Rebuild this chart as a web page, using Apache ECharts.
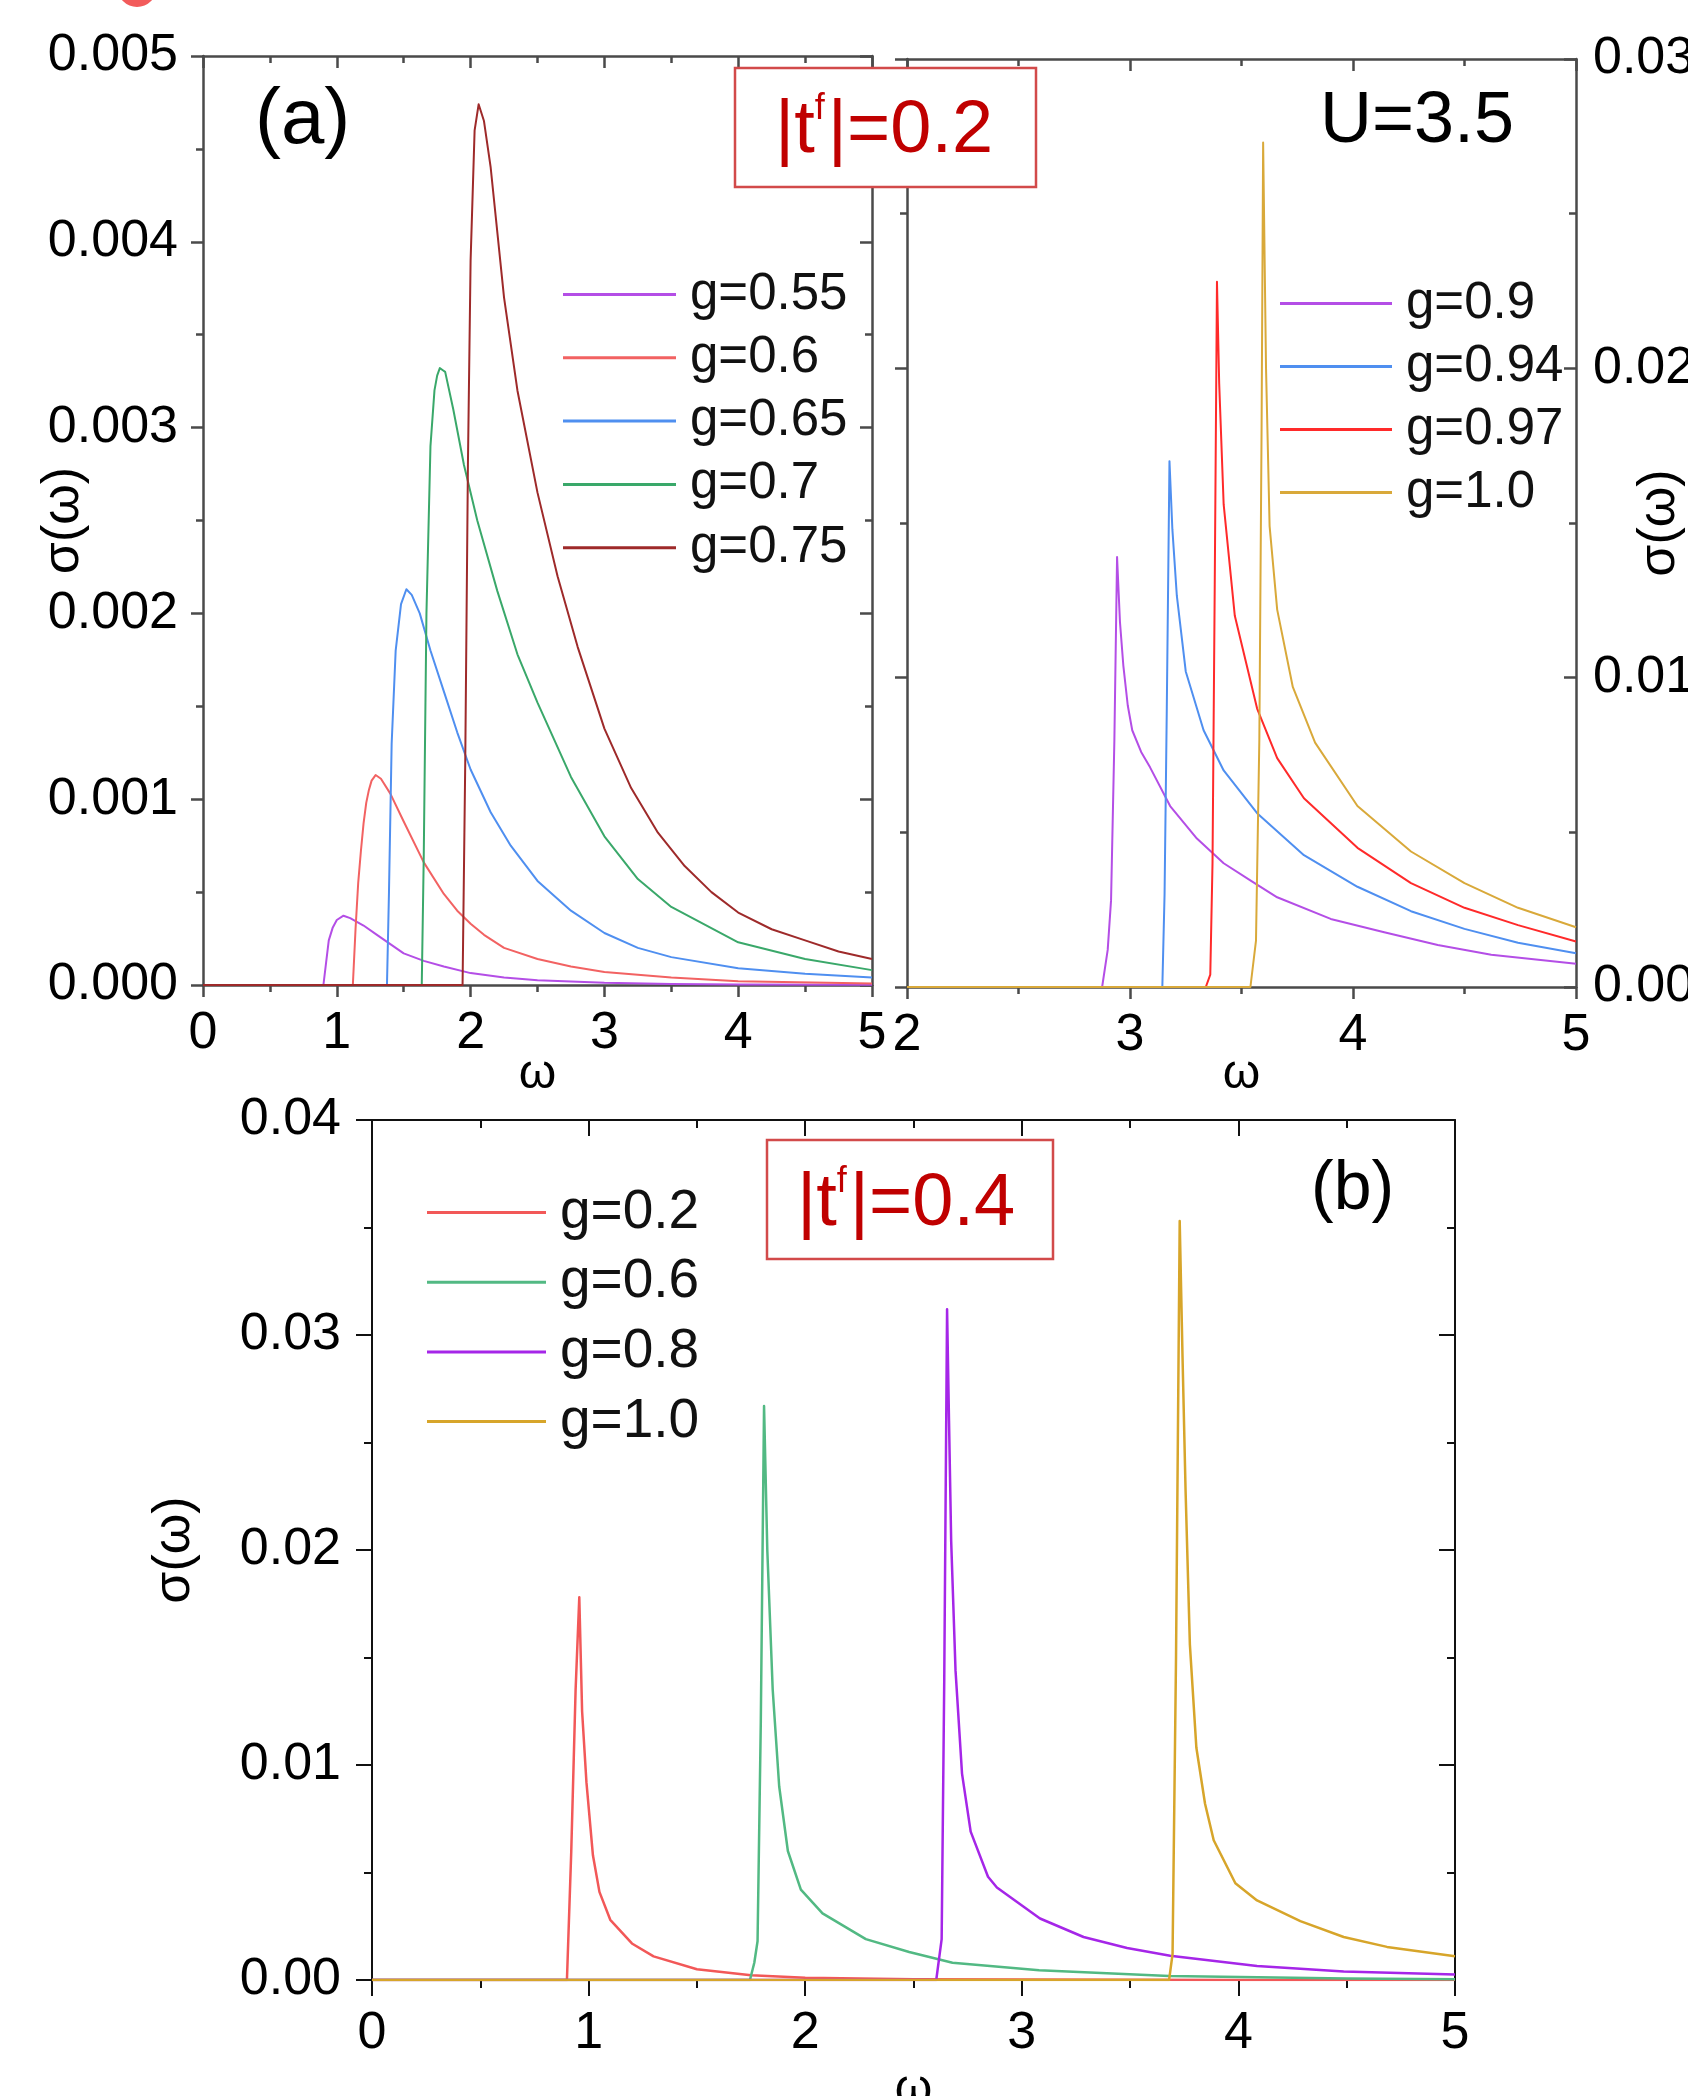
<!DOCTYPE html>
<html><head><meta charset="utf-8">
<script src="https://cdn.jsdelivr.net/npm/echarts@6/dist/echarts.min.js"></script>
<style>html,body{margin:0;padding:0;background:#fff}#c{width:1688px;height:2096px}</style>
</head><body><div id="c"></div>
<script>
// ---------- Panel (a): |t^f|=0.2, omega 0..5 ----------
const a_g055_w = [0, 0.90, 0.92, 0.94, 0.97, 1.0, 1.05, 1.1, 1.2, 1.3, 1.4, 1.5, 1.65, 1.8, 2.0, 2.25, 2.5, 3.0, 3.5, 4.0, 5.0];
const a_g055_s = [0, 0, 0.00012, 0.00024, 0.00031, 0.00035, 0.000373, 0.00036, 0.00032, 0.00027, 0.00022, 0.00017, 0.00013, 0.0001, 0.000064, 0.00004, 0.000026, 0.000012, 0.000006, 0.000003, 0.000001];
const a_g06_w = [0, 1.12, 1.14, 1.16, 1.18, 1.2, 1.22, 1.24, 1.26, 1.29, 1.33, 1.4, 1.5, 1.65, 1.8, 1.9, 2.0, 2.1, 2.25, 2.5, 2.75, 3.0, 3.5, 4.0, 5.0];
const a_g06_s = [0, 0, 0.0003, 0.00055, 0.00072, 0.00087, 0.00098, 0.00105, 0.0011, 0.00113, 0.00111, 0.00103, 0.00088, 0.00066, 0.00049, 0.0004, 0.00033, 0.00027, 0.0002, 0.00014, 0.0001, 0.00007, 0.00004, 0.00002, 0.000008];
const a_g065_w = [0, 1.375, 1.39, 1.41, 1.44, 1.48, 1.52, 1.56, 1.62, 1.7, 1.8, 1.9, 2.0, 2.15, 2.3, 2.5, 2.75, 3.0, 3.25, 3.5, 4.0, 4.5, 5.0];
const a_g065_s = [0, 0, 0.0005, 0.0013, 0.0018, 0.00205, 0.00213, 0.0021, 0.002, 0.0018, 0.00158, 0.00136, 0.00116, 0.00093, 0.00075, 0.00056, 0.0004, 0.00028, 0.0002, 0.00015, 0.00009, 0.00006, 0.00004];
const a_g07_w = [0, 1.635, 1.65, 1.67, 1.7, 1.73, 1.75, 1.77, 1.79, 1.81, 1.87, 1.95, 2.05, 2.2, 2.35, 2.5, 2.75, 3.0, 3.25, 3.5, 4.0, 4.5, 5.0];
const a_g07_s = [0, 0, 0.0007, 0.002, 0.0029, 0.0032, 0.00328, 0.00332, 0.00331, 0.0033, 0.0031, 0.0028, 0.0025, 0.00212, 0.00178, 0.00152, 0.00112, 0.0008, 0.00057, 0.00042, 0.00023, 0.00014, 0.00008];
const a_g075_w = [0, 1.94, 1.96, 1.98, 2.0, 2.03, 2.06, 2.1, 2.15, 2.25, 2.35, 2.5, 2.65, 2.8, 3.0, 3.2, 3.4, 3.6, 3.8, 4.0, 4.25, 4.5, 4.75, 5.0];
const a_g075_s = [0, 0, 0.0012, 0.0028, 0.0039, 0.0046, 0.00474, 0.00465, 0.0044, 0.0037, 0.0032, 0.00265, 0.0022, 0.00182, 0.00138, 0.00106, 0.00082, 0.00064, 0.0005, 0.00039, 0.0003, 0.00024, 0.00018, 0.00014];

// ---------- Right panel: U=3.5, omega 2..5 ----------
const r_g09_w = [2, 2.875, 2.90, 2.915, 2.93, 2.942, 2.955, 2.97, 2.99, 3.01, 3.05, 3.09, 3.18, 3.3, 3.42, 3.55, 3.66, 3.9, 4.14, 4.38, 4.62, 5.0];
const r_g09_s = [0, 0, 0.0012, 0.0028, 0.008, 0.0139, 0.0118, 0.0104, 0.0091, 0.0083, 0.0076, 0.0071, 0.00585, 0.0048, 0.004, 0.0034, 0.0029, 0.0022, 0.00177, 0.00136, 0.00104, 0.00075];
const r_g094_w = [2, 3.145, 3.155, 3.165, 3.177, 3.19, 3.21, 3.25, 3.33, 3.42, 3.57, 3.78, 4.02, 4.26, 4.5, 4.74, 5.0];
const r_g094_s = [0, 0, 0.003, 0.009, 0.017, 0.0148, 0.01265, 0.0102, 0.0083, 0.007, 0.00562, 0.00426, 0.00324, 0.00245, 0.00188, 0.00143, 0.00109];
const r_g097_w = [2, 3.34, 3.36, 3.37, 3.38, 3.39, 3.40, 3.42, 3.47, 3.57, 3.66, 3.78, 4.02, 4.26, 4.5, 4.74, 5.0];
const r_g097_s = [0, 0, 0.0004, 0.004, 0.013, 0.0228, 0.0195, 0.0156, 0.012, 0.009, 0.0074, 0.0061, 0.0045, 0.00336, 0.00256, 0.002, 0.00147];
const r_g10_w = [2, 3.54, 3.565, 3.58, 3.59, 3.597, 3.61, 3.626, 3.66, 3.73, 3.83, 4.02, 4.26, 4.5, 4.74, 5.0];
const r_g10_s = [0, 0, 0.0015, 0.008, 0.018, 0.0273, 0.02, 0.0149, 0.0122, 0.0097, 0.0079, 0.00585, 0.00438, 0.00336, 0.00256, 0.00193];

// ---------- Panel (b): |t^f|=0.4, omega 0..5 ----------
const b_g02_w = [0, 0.90, 0.92, 0.94, 0.957, 0.97, 0.99, 1.02, 1.05, 1.1, 1.2, 1.3, 1.5, 1.75, 2.0, 2.5, 3.0, 4.0, 5.0];
const b_g02_s = [0, 0, 0.006, 0.0135, 0.0178, 0.0125, 0.0092, 0.0058, 0.0041, 0.0028, 0.0017, 0.0011, 0.0005, 0.00022, 0.0001, 0.00004, 0.00002, 0.000005, 0];
const b_g06_w = [0, 1.745, 1.765, 1.78, 1.795, 1.81, 1.825, 1.85, 1.88, 1.92, 1.98, 2.08, 2.28, 2.48, 2.68, 3.08, 3.68, 4.5, 5.0];
const b_g06_s = [0, 0, 0.0008, 0.0018, 0.012, 0.0267, 0.02, 0.0135, 0.009, 0.006, 0.0042, 0.0031, 0.0019, 0.0013, 0.0008, 0.00045, 0.00019, 0.00007, 0.00004];
const b_g08_w = [0, 2.605, 2.63, 2.642, 2.655, 2.664, 2.674, 2.694, 2.724, 2.764, 2.844, 2.885, 3.084, 3.285, 3.486, 3.685, 4.086, 4.486, 5.0];
const b_g08_s = [0, 0, 0.0019, 0.014, 0.0312, 0.026, 0.0204, 0.0144, 0.0096, 0.0069, 0.0048, 0.0043, 0.00286, 0.002, 0.00149, 0.00113, 0.00065, 0.0004, 0.00026];
const b_g10_w = [0, 3.68, 3.696, 3.712, 3.729, 3.742, 3.756, 3.776, 3.806, 3.846, 3.886, 3.986, 4.086, 4.286, 4.486, 4.686, 5.0];
const b_g10_s = [0, 0, 0.0012, 0.015, 0.0353, 0.029, 0.0228, 0.0156, 0.0108, 0.0082, 0.0065, 0.0045, 0.0037, 0.00274, 0.002, 0.00154, 0.0011];

const legendA = ['g=0.55', 'g=0.6', 'g=0.65', 'g=0.7', 'g=0.75'];
const legendR = ['g=0.9', 'g=0.94', 'g=0.97', 'g=1.0'];
const legendB = ['g=0.2', 'g=0.6', 'g=0.8', 'g=1.0'];

const FONT = 'Liberation Sans, Arial, sans-serif';
const chart = echarts.init(document.getElementById('c'), null, {renderer: 'canvas'});

function pts(w, s) { return w.map((x, i) => [x, s[i]]); }
function line(name, xi, yi, w, s, color, width) {
  return {type: 'line', name: name, xAxisIndex: xi, yAxisIndex: yi, data: pts(w, s),
    showSymbol: false, symbol: 'none', animation: false, z: 3, smooth: false,
    lineStyle: {width: width, color: color, join: 'round'}, itemStyle: {color: color}};
}
function axisCommon(color, lw, major, minor, inside) {
  return {
    axisLine: {show: true, onZero: false, lineStyle: {color: color, width: lw}},
    axisTick: {show: true, inside: inside, length: major, lineStyle: {color: color, width: lw}},
    minorTick: {show: true, splitNumber: 2, length: minor, lineStyle: {color: color, width: lw}},
    splitLine: {show: false}, minorSplitLine: {show: false}
  };
}
function xA(grid, min, max, pos, showLabel, o) {
  return Object.assign({type: 'value', gridIndex: grid, min: min, max: max, interval: 1, position: pos,
    axisLabel: {show: showLabel, fontSize: o.fs, fontFamily: FONT, color: '#000', margin: o.margin,
      showMinLabel: true, showMaxLabel: true},
    name: showLabel ? 'ω' : '', nameLocation: 'middle', nameGap: o.nameGap, nameMoveOverlap: false,
    nameTextStyle: {fontSize: 48, fontFamily: FONT, color: '#000'}
  }, axisCommon(o.color, o.lw, o.major, o.minor, pos === 'top'));
}
function yA(grid, max, interval, pos, showLabel, inside, o) {
  return Object.assign({type: 'value', gridIndex: grid, min: 0, max: max, interval: interval, position: pos,
    axisLabel: {show: showLabel, fontSize: o.fs, fontFamily: FONT, color: '#000', margin: o.margin,
      formatter: v => v.toFixed(o.dec), showMinLabel: true, showMaxLabel: true},
    name: showLabel ? 'σ(ω)' : '', nameLocation: 'middle', nameGap: o.nameGap, nameRotate: 90, nameMoveOverlap: false,
    nameTextStyle: {fontSize: 52, fontFamily: FONT, color: '#000'}
  }, axisCommon(o.color, o.lw, o.major, o.minor, inside));
}

const GA = {color: '#4a4a4a', lw: 2.5, major: 12, minor: 7, fs: 52};
const GB = {color: '#111', lw: 2, major: 16, minor: 8, fs: 52};

const option = {
  backgroundColor: '#fff',
  animation: false,
  grid: [
    {left: 203, top: 56, width: 669, height: 929, outerBoundsMode: 'none', containLabel: false},
    {left: 907, top: 59, width: 669, height: 928, outerBoundsMode: 'none', containLabel: false},
    {left: 372, top: 1120, width: 1083, height: 860, outerBoundsMode: 'none', containLabel: false}
  ],
  xAxis: [
    xA(0, 0, 5, 'bottom', true, Object.assign({margin: 23, nameGap: 66}, GA)),
    xA(0, 0, 5, 'top', false, Object.assign({margin: 23, nameGap: 66}, GA)),
    xA(1, 2, 5, 'bottom', true, Object.assign({margin: 23, nameGap: 64}, GA)),
    xA(1, 2, 5, 'top', false, Object.assign({margin: 23, nameGap: 64}, GA)),
    xA(2, 0, 5, 'bottom', true, Object.assign({margin: 28, nameGap: 86}, GB)),
    xA(2, 0, 5, 'top', false, Object.assign({margin: 28, nameGap: 86}, GB))
  ],
  yAxis: [
    yA(0, 0.005, 0.001, 'left', true, false, Object.assign({margin: 25, nameGap: 113, dec: 3}, GA)),
    yA(0, 0.005, 0.001, 'right', false, true, Object.assign({margin: 25, nameGap: 60, dec: 3}, GA)),
    yA(1, 0.03, 0.01, 'left', false, false, Object.assign({margin: 17, nameGap: 60, dec: 2}, GA)),
    yA(1, 0.03, 0.01, 'right', true, true, Object.assign({margin: 17, nameGap: 58, dec: 2}, GA)),
    yA(2, 0.04, 0.01, 'left', true, false, Object.assign({margin: 31, nameGap: 171, dec: 2}, GB)),
    yA(2, 0.04, 0.01, 'right', false, true, Object.assign({margin: 31, nameGap: 60, dec: 2}, GB))
  ],
  legend: [
    {left: 558, top: 264, orient: 'vertical', itemWidth: 113, itemHeight: 3, itemGap: 12.3, icon: 'rect',
      selectedMode: false, data: legendA.map(n => 'a:' + n), formatter: n => n.split(':')[1],
      textStyle: {fontSize: 51, fontFamily: FONT, color: '#111', lineHeight: 50, padding: [0, 0, 0, 9]}},
    {left: 1275, top: 273, orient: 'vertical', itemWidth: 112, itemHeight: 3, itemGap: 12, icon: 'rect',
      selectedMode: false, data: legendR.map(n => 'r:' + n), formatter: n => n.split(':')[1],
      textStyle: {fontSize: 51, fontFamily: FONT, color: '#111', lineHeight: 50, padding: [0, 0, 0, 9]}},
    {left: 422, top: 1180, orient: 'vertical', itemWidth: 119, itemHeight: 3, itemGap: 14.7, icon: 'rect',
      selectedMode: false, data: legendB.map(n => 'b:' + n), formatter: n => n.split(':')[1],
      textStyle: {fontSize: 55, fontFamily: FONT, color: '#111', lineHeight: 50, padding: [0, 0, 0, 9]}}
  ],
  series: [
    line('a:g=0.55', 0, 0, a_g055_w, a_g055_s, '#b44ee6', 2),
    line('a:g=0.6', 0, 0, a_g06_w, a_g06_s, '#f26262', 2),
    line('a:g=0.65', 0, 0, a_g065_w, a_g065_s, '#4f8ff0', 2),
    line('a:g=0.7', 0, 0, a_g07_w, a_g07_s, '#3aa86a', 2),
    line('a:g=0.75', 0, 0, a_g075_w, a_g075_s, '#9e2a2a', 2),
    line('r:g=0.9', 2, 2, r_g09_w, r_g09_s, '#b44ee6', 2),
    line('r:g=0.94', 2, 2, r_g094_w, r_g094_s, '#4f8ff0', 2),
    line('r:g=0.97', 2, 2, r_g097_w, r_g097_s, '#ff2a2a', 2),
    line('r:g=1.0', 2, 2, r_g10_w, r_g10_s, '#d9a93a', 2),
    line('b:g=0.2', 4, 4, b_g02_w, b_g02_s, '#f25858', 2.5),
    line('b:g=0.6', 4, 4, b_g06_w, b_g06_s, '#52b983', 2.5),
    line('b:g=0.8', 4, 4, b_g08_w, b_g08_s, '#a526e8', 2.5),
    line('b:g=1.0', 4, 4, b_g10_w, b_g10_s, '#d7a52a', 2.5)
  ],
  graphic: [
    {type: 'circle', shape: {cx: 137, cy: -12.6, r: 19.6}, style: {fill: '#f25b5b'}, z: 100},
    {type: 'rect', shape: {x: 735, y: 68, width: 301, height: 119},
      style: {fill: '#fff', stroke: '#d24a4a', lineWidth: 2.5}, z: 100},
    {type: 'text', x: 775, y: 91.4, z: 101, style: {
      text: '{n||t}{s|f}{n||=0.2}', verticalAlign: 'top', align: 'left',
      rich: {n: {fontSize: 74, lineHeight: 80, fontFamily: FONT, fill: '#c00000', color: '#c00000'},
             s: {fontSize: 36, lineHeight: 18, verticalAlign: 'top', fontFamily: FONT, fill: '#c00000', color: '#c00000', padding: [0, 3, 0, 0]}}}},
    {type: 'rect', shape: {x: 767, y: 1140, width: 286, height: 119},
      style: {fill: '#fff', stroke: '#d24a4a', lineWidth: 2.5}, z: 100},
    {type: 'text', x: 797, y: 1164.4, z: 101, style: {
      text: '{n||t}{s|f}{n||=0.4}', verticalAlign: 'top', align: 'left',
      rich: {n: {fontSize: 74, lineHeight: 80, fontFamily: FONT, fill: '#c00000', color: '#c00000'},
             s: {fontSize: 36, lineHeight: 18, verticalAlign: 'top', fontFamily: FONT, fill: '#c00000', color: '#c00000', padding: [0, 3, 0, 0]}}}},
    {type: 'text', x: 1320, y: 86, z: 101, style: {text: 'U=3.5', fontSize: 72, lineHeight: 72, fontFamily: FONT, fill: '#000', verticalAlign: 'top'}},
    {type: 'text', x: 255, y: 82.6, z: 101, style: {text: '(a)', fontSize: 78, lineHeight: 78, fontFamily: FONT, fill: '#000', verticalAlign: 'top'}},
    {type: 'text', x: 1311, y: 1156, z: 101, style: {text: '(b)', fontSize: 68, lineHeight: 68, fontFamily: FONT, fill: '#000', verticalAlign: 'top'}}
  ]
};
chart.setOption(option);
</script>
</body></html>
